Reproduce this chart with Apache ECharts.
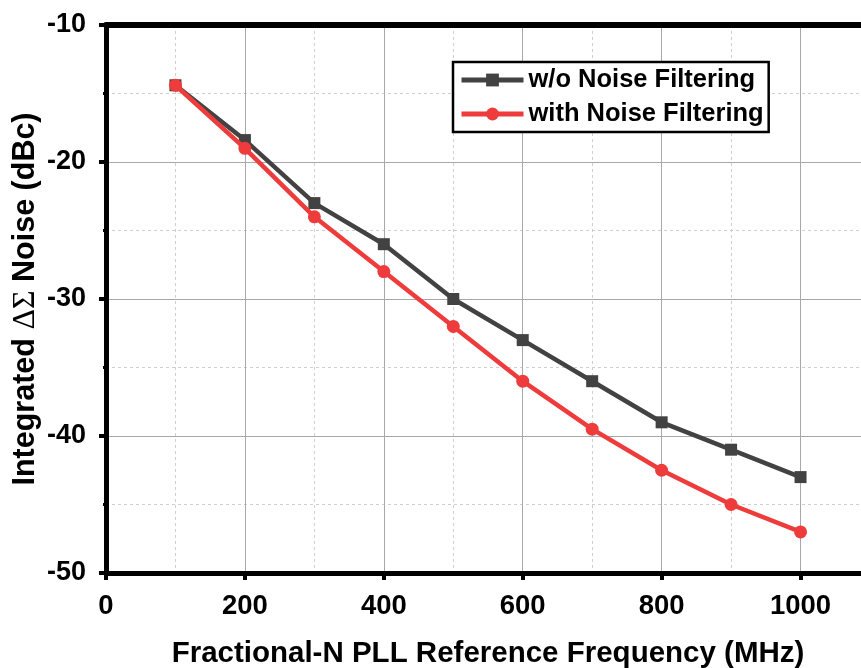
<!DOCTYPE html>
<html>
<head>
<meta charset="utf-8">
<script src="https://cdn.jsdelivr.net/npm/echarts@6/dist/echarts.min.js"></script>
<style>
  html, body { margin: 0; padding: 0; background: #fff; }
  #chart { width: 861px; height: 668px; }
</style>
</head>
<body>
<div id="chart"></div>
<script>
// Reference frequency sweep (MHz)
const freqMHz = [100, 200, 300, 400, 500, 600, 700, 800, 900, 1000];
// Integrated delta-sigma noise (dBc)
const noiseWithout = [-14.4, -18.4, -23, -26, -30, -33, -36, -39, -41, -43];
const noiseWith = [-14.4, -19, -24, -28, -32, -36, -39.5, -42.5, -45, -47];

const seriesNames = ['w/o Noise Filtering', 'with Noise Filtering'];
const xTitle = 'Fractional-N PLL Reference Frequency (MHz)';
const yTitle = 'Integrated {g|\u0394\u03A3} Noise (dBc)';

const FONT = '"Liberation Sans", Arial, sans-serif';
const SERIF = '"Liberation Serif", "DejaVu Serif", serif';

const chart = echarts.init(document.getElementById('chart'), null, { renderer: 'canvas' });

const pair = (xs, ys) => xs.map((x, i) => [x, ys[i]]);

chart.setOption({
  animation: false,
  backgroundColor: '#fff',
  grid: {
    left: 106, top: 25, width: 764, height: 548,
    outerBoundsMode: 'none',
    containLabel: false,
    show: false
  },
  legend: {
    left: 453, top: 62,
    orient: 'vertical',
    data: seriesNames,
    itemWidth: 62, itemHeight: 16, itemGap: 8,
    padding: [5, 5, 5, 6],
    borderColor: '#000', borderWidth: 2.5,
    backgroundColor: '#fff',
    lineStyle: { width: 5 },
    textStyle: { fontFamily: FONT, fontWeight: 'bold', fontSize: 25.5, color: '#000' }
  },
  xAxis: [
    {
      type: 'value', min: 0, max: 1100, interval: 200,
      name: xTitle, nameLocation: 'middle', nameGap: 66, nameMoveOverlap: false,
      nameTextStyle: { fontFamily: FONT, fontWeight: 'bold', fontSize: 29.5, color: '#000' },
      axisLine: { show: true, onZero: false, lineStyle: { color: '#000', width: 5 } },
      axisTick: { show: true, length: 7, lineStyle: { color: '#000', width: 4 } },
      minorTick: { show: true, splitNumber: 2, length: 3, lineStyle: { color: '#000', width: 3 } },
      axisLabel: { fontFamily: FONT, fontWeight: 'bold', fontSize: 27.5, color: '#000', margin: 19,
        formatter: v => (v > 1000 ? '' : String(v)) },
      splitLine: { show: true, lineStyle: { color: '#a8a8a8', width: 1 } },
      minorSplitLine: { show: true, lineStyle: { color: '#cfcfcf', width: 1, type: [3, 3] } }
    },
    {
      // frame line along the top of the plot
      type: 'value', position: 'top', min: 0, max: 1100,
      axisLine: { show: true, onZero: false, lineStyle: { color: '#000', width: 6 } },
      axisTick: { show: false }, axisLabel: { show: false },
      splitLine: { show: false }
    }
  ],
  yAxis: {
    type: 'value', min: -50, max: -10, interval: 10,
    name: yTitle, nameLocation: 'middle', nameGap: 64, nameRotate: 90, nameMoveOverlap: false,
    nameTextStyle: {
      fontFamily: FONT, fontWeight: 'bold', fontSize: 30.5, color: '#000',
      rich: { g: { fontFamily: SERIF, fontWeight: 'normal', fontSize: 32, color: '#000' } }
    },
    axisLine: { show: true, onZero: false, lineStyle: { color: '#000', width: 5 } },
    axisTick: { show: true, length: 7, lineStyle: { color: '#000', width: 4 } },
    minorTick: { show: true, splitNumber: 2, length: 3, lineStyle: { color: '#000', width: 3 } },
    axisLabel: { fontFamily: FONT, fontWeight: 'bold', fontSize: 27, color: '#000', margin: 20 },
    splitLine: { show: true, lineStyle: { color: '#a8a8a8', width: 1 } },
    minorSplitLine: { show: true, lineStyle: { color: '#cfcfcf', width: 1, type: [3, 3] } }
  },
  series: [
    {
      name: seriesNames[0], type: 'line',
      data: pair(freqMHz, noiseWithout),
      symbol: 'rect', symbolSize: 12,
      lineStyle: { color: '#424242', width: 4.5 },
      itemStyle: { color: '#424242' },
      z: 2
    },
    {
      name: seriesNames[1], type: 'line',
      data: pair(freqMHz, noiseWith),
      symbol: 'circle', symbolSize: 13,
      lineStyle: { color: '#ee3b3b', width: 4.5 },
      itemStyle: { color: '#ee3b3b' },
      z: 3
    }
  ]
});
</script>
</body>
</html>
